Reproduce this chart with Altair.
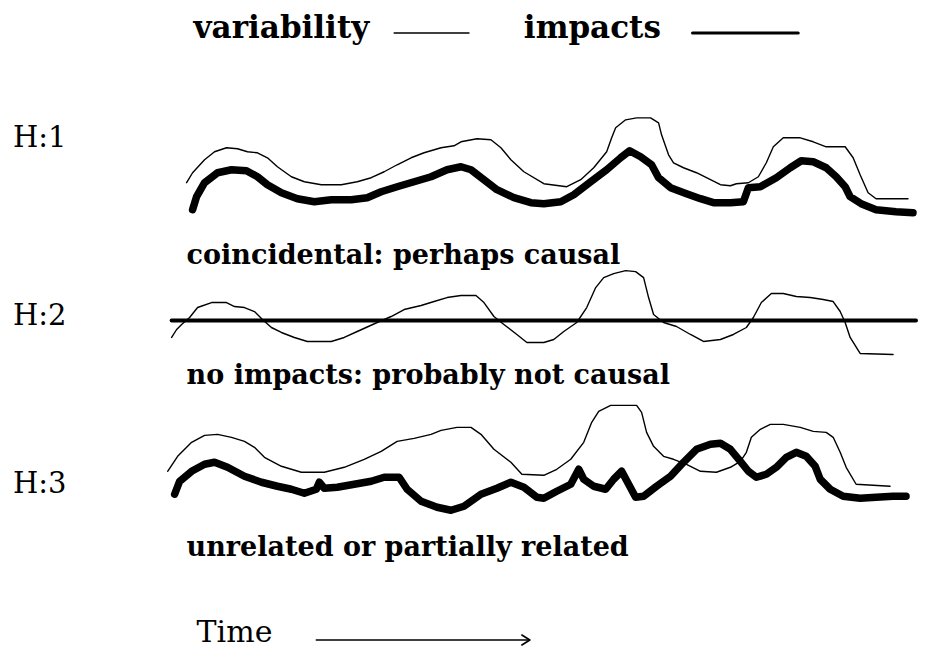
import altair as alt
import pandas as pd

# ---- curves: (time, level) in the picture's frame ----
h1_variability = [(187,183),(193,173),(205,160),(215,152),(227,148),(238,149),(248,152),(258,153),
    (268,158),(278,167),(292,177),(305,182),(322,185),(342,185),(358,182),(372,178),(385,172),
    (398,165),(412,158),(425,153),(442,148),(455,146),(462,142),(478,139),(492,140),(502,148),
    (512,160),(525,172),(545,184),(568,187),(582,180),(595,168),(608,152),(613,138),(617,128),
    (627,120),(638,118),(652,118),(660,123),(663,135),(670,155),(675,163),(685,168),(698,173),
    (712,180),(722,185),(732,186),(738,184),(750,183),(760,177),(768,163),(775,147),(785,138),
    (802,138),(815,142),(828,147),(847,147),(855,158),(862,175),(870,193),(878,199),(910,199)]
h1_impacts = [(193,210),(197,197),(205,183),(218,173),(232,170),(247,171),(258,177),(268,185),
    (282,193),(298,199),(315,202),(332,200),(352,200),(368,198),(382,192),(398,187),(415,182),
    (432,177),(448,170),(462,167),(472,170),(485,180),(498,190),(515,198),(532,203),(545,204),
    (562,202),(575,195),(592,182),(608,170),(622,158),(631,151),(642,157),(653,165),(660,178),
    (672,188),(688,194),(702,199),(715,203),(732,203),(745,202),(750,188),(762,187),(778,178),
    (792,168),(803,161),(815,162),(828,168),(838,177),(847,187),(852,197),(863,204),(878,210),
    (898,212),(915,213)]
h2_variability = [(172,338),(177,330),(182,325),(190,318),(198,308),(212,303),(227,303),(235,307),
    (245,308),(255,312),(263,320),(272,328),(282,333),(295,338),(308,342),(332,342),(345,338),
    (358,332),(378,323),(392,317),(405,310),(422,306),(435,302),(448,298),(462,296),(477,296),
    (485,303),(495,317),(505,325),(518,335),(528,343),(545,343),(555,340),(565,332),(578,323),
    (588,308),(597,288),(605,278),(615,274),(627,271),(637,272),(645,278),(650,298),(655,315),
    (665,323),(678,327),(692,335),(705,342),(722,340),(735,335),(748,328),(755,318),(763,303),
    (773,294),(785,294),(798,297),(812,298),(825,300),(835,302),(842,312),(847,323),(852,338),
    (862,354),(895,355)]
h2_impacts = [(172,321),(918,321)]
h3_variability = [(168,472),(178,457),(192,443),(205,436),(218,435),(232,438),(245,442),(255,448),
    (265,458),(282,467),(302,473),(325,473),(345,468),(365,460),(382,452),(398,442),(415,439),
    (432,435),(442,431),(458,428),(472,428),(482,435),(495,450),(512,463),(523,475),(545,476),
    (558,470),(572,460),(585,443),(593,423),(600,412),(612,406),(638,406),(643,413),(648,433),
    (655,447),(665,457),(675,460),(688,465),(702,472),(718,473),(732,468),(742,462),(748,453),
    (753,438),(762,430),(772,425),(785,425),(802,428),(815,432),(828,433),(835,438),(842,453),
    (848,468),(858,485),(892,487)]
h3_impacts = [(175,495),(180,482),(192,472),(205,465),(215,463),(228,468),(245,477),(262,483),
    (278,487),(292,490),(305,494),(317,490),(320,483),(325,489),(338,488),(355,485),(372,482),
    (385,478),(400,478),(408,490),(422,502),(438,508),(452,511),(465,507),(482,495),(498,489),
    (512,483),(525,488),(538,498),(545,499),(558,492),(572,485),(580,470),(585,480),(595,487),
    (607,490),(615,480),(623,472),(630,485),(637,498),(645,497),(658,487),(672,477),(685,463),
    (698,450),(712,445),(722,444),(732,450),(742,462),(750,472),(758,478),(768,475),(778,468),
    (788,458),(798,453),(808,457),(817,467),(822,480),(832,490),(845,497),(862,499),(878,498),
    (895,497),(908,497)]

# ---- texts ----
legend_words = ["variability", "impacts"]
panel_labels = ["H:1", "H:2", "H:3"]
captions = ["coincidental: perhaps causal", "no impacts: probably not causal",
            "unrelated or partially related"]
axis_word = "Time"

# ---- layout (picture frame) ----
legend_pos = [(194, 38), (525, 38)]
legend_thin = [(395, 33), (470, 33)]
legend_thick = [(694, 33), (800, 33)]
panel_pos = [(13, 147), (13, 325), (13, 494)]
caption_pos = [(187, 264), (187, 385), (187, 557)]
time_pos = (197, 643)
time_arrow = [(317, 641), (530, 641)]
time_head = [(523, 636), (531, 641), (523, 646)]


def frame(series_dict):
    rows = []
    for name, pts in series_dict.items():
        for i, (t, v) in enumerate(pts):
            rows.append({"series": name, "i": i, "t": t, "v": v})
    return pd.DataFrame(rows)


X = alt.X("t:Q", scale=alt.Scale(domain=[8, 918], nice=False, zero=False), axis=None)
Y = alt.Y("v:Q", scale=alt.Scale(domain=[8, 648], nice=False, zero=False, reverse=True), axis=None)


def lines(df, width):
    return alt.Chart(df).mark_line(color="black", strokeWidth=width, strokeCap="round",
                                   strokeJoin="round").encode(
        x=X, y=Y, detail="series:N", order="i:Q")


thin = lines(frame({"h1": h1_variability, "h2": h2_variability, "h3": h3_variability,
                    "leg": legend_thin}), 1.4)
thick = lines(frame({"h1": h1_impacts, "h3": h3_impacts}), 7.5)
flat = lines(frame({"h2": h2_impacts}), 4)
leg_thick = lines(frame({"leg": legend_thick}), 3)
arrow = lines(frame({"a": time_arrow, "b": time_head}), 1.6)


def texts(labels, pos, size, weight):
    df = pd.DataFrame({"label": labels, "t": [p[0] for p in pos], "v": [p[1] for p in pos]})
    return alt.Chart(df).mark_text(align="left", baseline="alphabetic", font="DejaVu Serif",
                                   fontSize=size, fontWeight=weight, color="black").encode(
        x=X, y=Y, text="label:N")


t_legend = texts(legend_words, legend_pos, 31, "bold")
t_panels = texts(panel_labels, panel_pos, 29, "normal")
t_caps = texts(captions, caption_pos, 27, "bold")
t_time = texts([axis_word], [time_pos], 30, "normal")

chart = alt.layer(thin, thick, flat, leg_thick, arrow, t_legend, t_panels, t_caps, t_time).properties(
    width=910, height=640, padding=0,
    autosize=alt.AutoSizeParams(type="fit", contains="padding"),
    background="white",
).configure_view(stroke=None)

chart.save("out.html", embed_options={"renderer": "svg", "actions": False})
